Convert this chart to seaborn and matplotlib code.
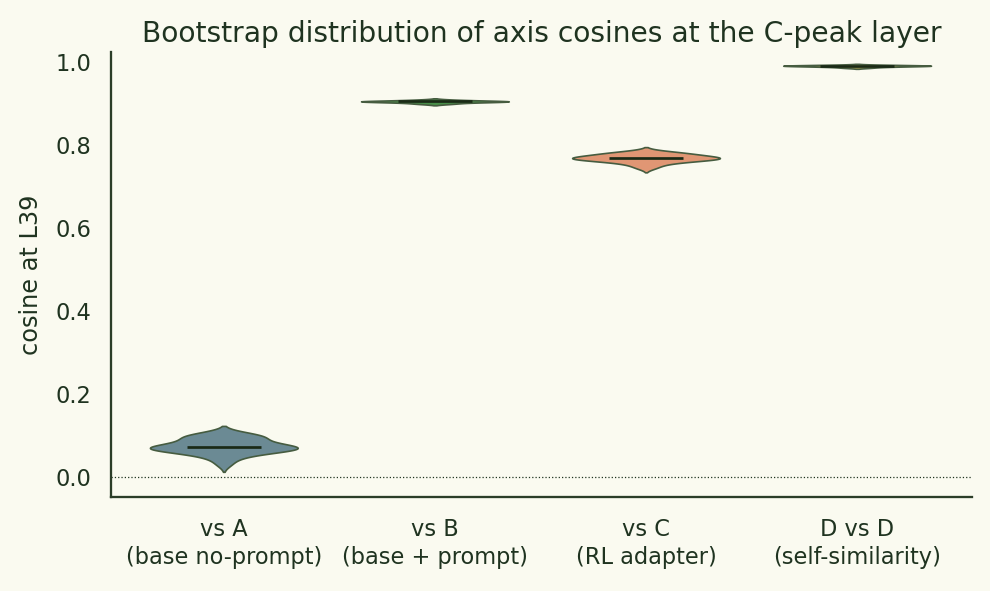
import matplotlib
matplotlib.use("Agg")
import matplotlib.pyplot as plt
import seaborn as sns
import pandas as pd
import numpy as np

categories = ["vs A\n(base no-prompt)", "vs B\n(base + prompt)", "vs C\n(RL adapter)", "D vs D\n(self-similarity)"]
cos_A = [0.032, 0.046, 0.053, 0.058, 0.061, 0.064, 0.066, 0.068, 0.069, 0.070, 0.070,
         0.071, 0.072, 0.074, 0.076, 0.079, 0.083, 0.087, 0.091, 0.095, 0.098, 0.100, 0.102, 0.104]
cos_B = [0.899, 0.901, 0.903, 0.904, 0.904, 0.905, 0.905, 0.906, 0.906, 0.907, 0.909]
cos_C = [0.745, 0.752, 0.757, 0.760, 0.762, 0.764, 0.765, 0.766, 0.767, 0.768, 0.769,
         0.770, 0.771, 0.772, 0.774, 0.776, 0.778, 0.780, 0.782, 0.784]
cos_D = [0.986, 0.988, 0.989, 0.990, 0.990, 0.991, 0.991, 0.991, 0.992, 0.992, 0.993]
colors = ["#648e9b", "#3c9a3c", "#f28f62", "#c9b43a"]

BG = "#fafaf0"
INK = "#1f3320"
EDGE = "#465c40"

rows = []
for cat, vals in zip(categories, [cos_A, cos_B, cos_C, cos_D]):
    for v in vals:
        rows.append({"comparison": cat, "cosine": v})
df = pd.DataFrame(rows)

sns.set_style("white")
plt.rcParams["font.family"] = ["DejaVu Sans"]
plt.rcParams["text.color"] = INK
plt.rcParams["axes.labelcolor"] = INK
plt.rcParams["xtick.color"] = INK
plt.rcParams["ytick.color"] = INK

fig = plt.figure(figsize=(6.6, 3.94), dpi=150, facecolor=BG)
ax = fig.add_axes([0.112, 0.159, 0.870, 0.753])
ax.set_facecolor(BG)

sns.violinplot(data=df, x="comparison", y="cosine", hue="comparison",
               order=categories, hue_order=categories, palette=colors,
               density_norm="width", width=0.7, inner=None, linewidth=0.8,
               linecolor=EDGE, legend=False, ax=ax)

meds = [float(np.median(v)) for v in [cos_A, cos_B, cos_C, cos_D]]
for i, m in enumerate(meds):
    ax.hlines(m, i - 0.175, i + 0.175, color="#1a2a16", linewidth=1.3, zorder=5)

ax.axhline(0, color=INK, linestyle=":", linewidth=0.6, zorder=0)

ax.set_xlim(-0.535, 3.545)
ax.set_ylim(-0.048, 1.024)
ax.set_yticks([0.0, 0.2, 0.4, 0.6, 0.8, 1.0])
ax.set_yticklabels(["0.0", "0.2", "0.4", "0.6", "0.8", "1.0"])
ax.tick_params(axis="y", length=0, labelsize=10.8, pad=9.5)
ax.tick_params(axis="x", length=0, labelsize=10.8, pad=10)
for lab in ax.get_xticklabels():
    lab.set_linespacing(1.3)
ax.set_xlabel("")
ax.set_ylabel("cosine at L39", fontsize=11.5, labelpad=6)
ax.set_title("Bootstrap distribution of axis cosines at the C-peak layer", fontsize=13.5, color=INK, pad=5)

for s in ["top", "right"]:
    ax.spines[s].set_visible(False)
for s in ["left", "bottom"]:
    ax.spines[s].set_color("#2b3d28")
    ax.spines[s].set_linewidth(1.1)

fig.savefig("out.png", dpi=150, facecolor=BG)
